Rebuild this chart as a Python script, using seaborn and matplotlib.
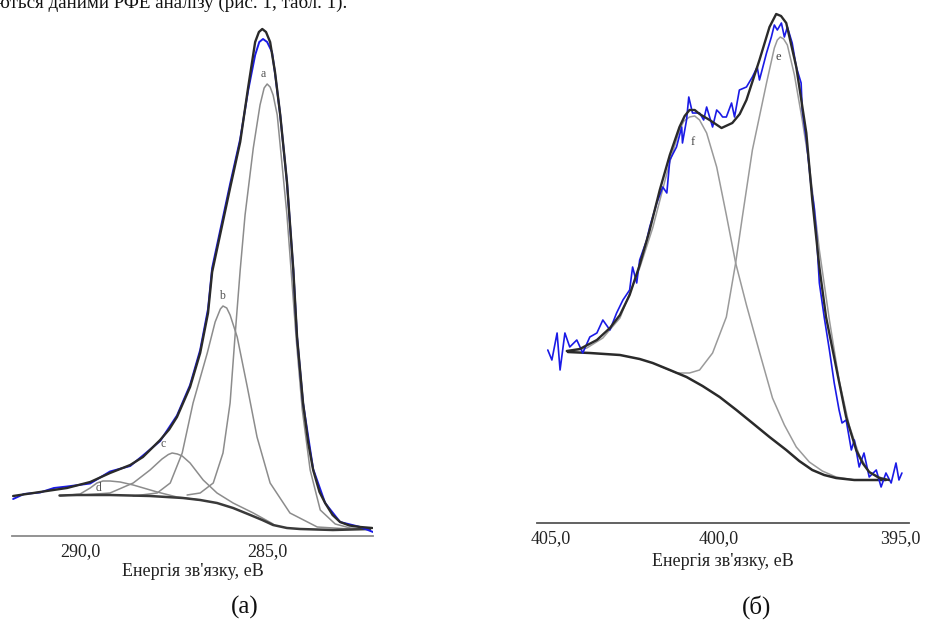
import numpy as np
import pandas as pd
import matplotlib.pyplot as plt
import matplotlib.transforms as mtransforms
import seaborn as sns

sns.set_style("white")
plt.rcParams['font.family'] = ['Liberation Serif', 'DejaVu Serif']

# ---- (a) C1s region, binding energy in eV, intensity in arb. units ----
c1s_raw_e = [291.79, 291.50, 291.07, 290.70, 290.35, 289.73, 289.20, 288.66, 288.32, 287.86,
             287.41, 287.06, 286.79, 286.58, 286.47, 286.23, 285.99, 285.72, 285.51, 285.32,
             285.21, 285.11, 285.00, 284.87, 284.79, 284.65, 284.47, 284.30, 284.20, 284.04,
             283.77, 283.45, 283.05, 282.51, 282.17]
c1s_raw_i = [7.4, 8.4, 8.7, 9.6, 9.9, 10.5, 12.9, 14.0, 16.1, 19.0,
             24.1, 30.2, 37.2, 45.4, 53.6, 62.0, 70.4, 79.4, 89.0, 96.2,
             98.8, 99.4, 98.8, 96.8, 92.6, 84.2, 70.8, 53.2, 39.8, 26.6,
             13.4, 6.6, 2.8, 1.8, 0.8]

c1s_env_e = [291.79, 291.07, 290.35, 289.73, 289.20, 288.66, 288.32, 287.86, 287.62, 287.41,
             287.06, 286.79, 286.58, 286.47, 286.23, 285.99, 285.72, 285.51, 285.32, 285.22,
             285.13, 285.03, 284.92, 284.79, 284.65, 284.47, 284.30, 284.20, 284.04, 283.90,
             283.77, 283.60, 283.45, 283.25, 283.05, 282.80, 282.51, 282.19]
c1s_env_i = [8.0, 8.8, 9.6, 10.8, 12.6, 14.2, 15.8, 19.2, 21.3, 23.8,
             29.8, 36.6, 44.6, 52.8, 61.2, 69.6, 78.8, 89.6, 98.8, 100.8,
             101.4, 100.8, 98.8, 92.8, 84.2, 70.8, 53.2, 39.8, 26.6, 18.6,
             13.2, 8.8, 6.6, 4.2, 2.8, 2.1, 1.8, 1.6]

c1s_bg_e = [290.55, 290.08, 289.20, 288.13, 287.25, 286.79, 286.34, 285.91, 285.45, 285.13,
            284.84, 284.47, 284.12, 283.24, 282.25]
c1s_bg_i = [8.1, 8.2, 8.2, 8.0, 7.6, 7.2, 6.6, 5.6, 4.2, 3.2,
            2.2, 1.6, 1.4, 1.2, 1.4]

c1s_a_e = [287.14, 286.79, 286.44, 286.18, 285.99, 285.86, 285.72, 285.59, 285.37, 285.19,
           285.08, 285.00, 284.92, 284.84, 284.73, 284.60, 284.47, 284.36, 284.22, 284.06,
           283.85, 283.58, 283.18, 282.78, 282.38]
c1s_a_i = [8.2, 8.6, 10.6, 16.6, 26.6, 39.8, 53.2, 64.2, 77.6, 86.2,
           89.6, 90.4, 89.8, 88.2, 84.2, 74.2, 64.2, 53.2, 39.2, 25.2,
           13.2, 5.2, 2.4, 1.6, 1.4]

c1s_b_e = [288.58, 287.94, 287.59, 287.27, 286.98, 286.60, 286.39, 286.25, 286.18, 286.08,
           285.99, 285.80, 285.53, 285.27, 284.92, 284.39, 283.66, 282.78]
c1s_b_i = [8.0, 8.6, 10.6, 16.6, 26.6, 36.6, 42.8, 45.4, 46.0, 45.6,
           44.2, 39.8, 29.8, 19.8, 10.6, 4.6, 1.8, 1.4]

c1s_c_e = [289.92, 289.20, 288.58, 288.13, 287.81, 287.64, 287.54, 287.40, 287.27, 287.06,
           286.71, 286.34, 285.91, 285.37, 284.84]
c1s_c_i = [8.2, 8.6, 10.6, 13.2, 15.4, 16.3, 16.6, 16.4, 16.0, 14.6,
           11.2, 8.6, 6.6, 4.6, 2.4]

c1s_d_e = [290.53, 290.00, 289.73, 289.55, 289.39, 289.20, 288.93, 288.58, 287.94, 287.41, 286.79]
c1s_d_i = [8.0, 8.4, 9.6, 10.6, 11.0, 11.0, 10.8, 10.2, 8.8, 7.8, 7.2]

c1s_labels = ['a', 'b', 'c', 'd']
c1s_label_e = [285.11, 286.20, 287.78, 289.52]
c1s_label_i = [92.4, 48.0, 18.4, 9.6]

# ---- (б) N1s region ----
n1s_raw_e = [404.71, 404.60, 404.46, 404.38, 404.25, 404.12, 403.93, 403.77, 403.58, 403.39,
             403.23, 403.04, 402.86, 402.69, 402.51, 402.43, 402.32, 402.24, 402.05, 401.97,
             401.78, 401.62, 401.51, 401.43, 401.25, 401.11, 401.09, 400.98, 400.92, 400.82,
             400.63, 400.52, 400.44, 400.28, 400.17, 400.09, 400.01, 399.91, 399.77, 399.69,
             399.56, 399.37, 399.21, 399.08, 399.02, 398.83, 398.70, 398.62, 398.54, 398.43,
             398.35, 398.27, 398.14, 398.03, 397.90, 397.87, 397.76, 397.63, 397.55, 397.49,
             397.41, 397.28, 397.14, 397.01, 396.88, 396.80, 396.69, 396.55, 396.47, 396.34,
             396.21, 396.07, 395.88, 395.75, 395.62, 395.48, 395.35, 395.27, 395.19]
n1s_raw_i = [34.6, 32.6, 38.0, 30.6, 38.0, 35.2, 36.6, 34.0, 37.2, 38.0,
             40.6, 38.6, 42.0, 44.6, 46.6, 51.2, 48.0, 52.6, 56.6, 59.2,
             64.0, 67.2, 66.0, 72.6, 75.2, 79.2, 76.0, 80.6, 85.2, 82.0,
             82.0, 80.6, 83.2, 79.2, 82.6, 82.0, 81.2, 81.2, 84.0, 81.2,
             86.6, 87.2, 89.2, 91.2, 88.6, 94.0, 97.2, 99.6, 98.6, 100.0,
             97.2, 99.2, 96.0, 91.2, 88.0, 82.6, 76.6, 67.2, 63.2, 58.0,
             48.0, 41.2, 34.6, 28.0, 22.6, 20.0, 20.6, 14.6, 16.6, 11.2,
             14.0, 9.2, 10.6, 7.2, 10.0, 8.0, 12.0, 8.6, 10.0]

n1s_env_e = [404.20, 403.85, 403.39, 403.04, 402.77, 402.51, 402.24, 401.97, 401.70, 401.43,
             401.17, 401.03, 400.90, 400.76, 400.63, 400.36, 400.04, 399.75, 399.55, 399.37,
             399.02, 398.75, 398.57, 398.44, 398.30, 398.03, 397.76, 397.60, 397.41, 397.23,
             396.96, 396.69, 396.42, 396.24, 396.07, 395.80, 395.54]
n1s_env_i = [34.4, 34.8, 36.6, 39.0, 41.6, 45.6, 51.6, 58.6, 66.6, 73.6,
             79.2, 81.4, 82.6, 82.6, 81.8, 80.6, 79.0, 80.0, 81.8, 84.6,
             92.6, 99.2, 101.8, 101.4, 100.0, 91.2, 78.0, 64.6, 51.2, 41.2,
             31.2, 21.2, 14.6, 11.9, 10.2, 9.0, 8.6]

n1s_bg_e = [404.17, 403.58, 402.77, 402.24, 401.89, 401.43, 400.98, 400.55, 400.09, 399.64,
            399.21, 398.75, 398.30, 397.95, 397.60, 397.28, 396.96, 396.47, 396.07, 395.62]
n1s_bg_i = [34.2, 34.0, 33.6, 32.8, 32.0, 30.6, 29.2, 27.4, 25.2, 22.6,
            20.0, 17.2, 14.6, 12.4, 10.6, 9.6, 9.0, 8.6, 8.6, 8.6]

n1s_e_e = [401.70, 401.25, 400.90, 400.63, 400.28, 399.91, 399.66, 399.48, 399.21, 398.83,
           398.62, 398.54, 398.46, 398.37, 398.27, 398.08, 397.87, 397.68, 397.41, 397.14,
           396.88, 396.61, 396.34, 396.07, 395.62]
n1s_e_i = [31.4, 30.0, 30.0, 30.6, 34.0, 41.2, 52.0, 61.2, 74.6, 88.0,
           95.0, 96.6, 97.2, 96.8, 95.6, 89.6, 80.6, 71.6, 54.6, 40.6,
           28.6, 19.6, 13.6, 10.2, 8.6]

n1s_f_e = [404.17, 403.66, 403.23, 402.77, 402.24, 401.89, 401.43, 401.17, 401.05, 400.90,
           400.76, 400.63, 400.44, 400.17, 399.91, 399.66, 399.37, 399.02, 398.67, 398.35,
           398.03, 397.68, 397.33, 396.96, 396.47]
n1s_f_i = [34.2, 35.0, 37.0, 41.0, 51.0, 59.0, 72.2, 78.6, 80.4, 81.2,
           81.4, 80.6, 78.0, 71.2, 61.6, 52.0, 43.6, 34.2, 25.0, 19.6,
           15.2, 12.2, 10.4, 9.2, 8.6]

n1s_labels = ['f', 'e']
n1s_label_e = [400.82, 398.51]
n1s_label_i = [76.2, 93.2]

top_text = "нуються даними РФЕ аналізу (рис. 1, табл. 1)."
tick_c1s = [290, 285]
tick_c1s_labels = ['290,0', '285,0']
tick_n1s = [405, 400, 395]
tick_n1s_labels = ['405,0', '400,0', '395,0']
xlabel = "Енергія зв'язку, еВ"


def draw_curve(ax, e, i, color, lw, z):
    df = pd.DataFrame({'E': e, 'I': i})
    sns.lineplot(data=df, x='E', y='I', ax=ax, sort=False, estimator=None,
                 color=color, lw=lw, zorder=z)


def style_axis(ax, ticks, labels, axis_color, lpad):
    ax.set_ylabel("")
    ax.set_yticks([])
    for s in ['top', 'left', 'right']:
        ax.spines[s].set_visible(False)
    ax.spines['bottom'].set_color(axis_color)
    ax.spines['bottom'].set_linewidth(1.3)
    ax.set_xticks(ticks, labels=labels, fontsize=13)
    ax.tick_params(axis='x', direction='inout', length=6, width=1.0,
                   color=axis_color, pad=2, labelcolor='#222222')
    ax.set_xlabel(xlabel, fontsize=13, color='#222222', labelpad=lpad)


fig = plt.figure(figsize=(9.27, 6.21), dpi=100)
ax1 = fig.add_axes([12 / 927, 85 / 621, 361 / 927, 516 / 621])
ax2 = fig.add_axes([537 / 927, 98 / 621, 372 / 927, 523 / 621])

comp = '#8c8c8c'
dark = '#2a2a2a'
blue = '#1a1ae6'

# (a)
for e, i in [(c1s_a_e, c1s_a_i), (c1s_b_e, c1s_b_i), (c1s_c_e, c1s_c_i), (c1s_d_e, c1s_d_i)]:
    draw_curve(ax1, e, i, comp, 1.1, 2)
draw_curve(ax1, c1s_bg_e, c1s_bg_i, '#3a3a3a', 1.8, 3)
draw_curve(ax1, c1s_raw_e, c1s_raw_i, blue, 1.4, 4)
draw_curve(ax1, c1s_env_e, c1s_env_i, dark, 1.7, 5)
for lab, e, i in zip(c1s_labels, c1s_label_e, c1s_label_i):
    ax1.text(e, i, lab, fontsize=8.5, color='#555555', ha='center', va='center')
ax1.set_xlim(291.82, 282.17)
ax1.set_ylim(0, 103.2)
style_axis(ax1, tick_c1s, tick_c1s_labels, '#8a8a8a', 2)

# (б)
for e, i in [(n1s_e_e, n1s_e_i), (n1s_f_e, n1s_f_i)]:
    draw_curve(ax2, e, i, '#9a9a9a', 1.1, 2)
draw_curve(ax2, n1s_bg_e, n1s_bg_i, dark, 1.8, 3)
draw_curve(ax2, n1s_raw_e, n1s_raw_i, blue, 1.2, 4)
draw_curve(ax2, n1s_env_e, n1s_env_i, dark, 1.7, 5)
for lab, e, i in zip(n1s_labels, n1s_label_e, n1s_label_i):
    ax2.text(e, i, lab, fontsize=9, color='#444444', ha='center', va='center')
ax2.set_xlim(405, 395)
ax2.set_ylim(0, 104.6)
style_axis(ax2, tick_n1s, tick_n1s_labels, '#555555', 4)

# nudge the end labels of the right axis inward, as in the scan
shifts = [14, -4, -9]
for lab, dx in zip(ax2.get_xticklabels(), shifts):
    lab.set_transform(lab.get_transform() + mtransforms.ScaledTranslation(dx / 100, 0, fig.dpi_scale_trans))

fig.text(245 / 927, 1 - 607 / 621, "(a)", fontsize=18, ha='center', va='center', color='#111111')
fig.text(757 / 927, 1 - 607 / 621, "(б)", fontsize=18, ha='center', va='center', color='#111111')
# the preceding body line of the page, cut by the top edge of the scan
fig.text(347 / 927, 1 - 8 / 621, top_text, fontsize=13.7, ha='right', va='baseline', color='#111111')

fig.savefig("out.png", dpi=100)
